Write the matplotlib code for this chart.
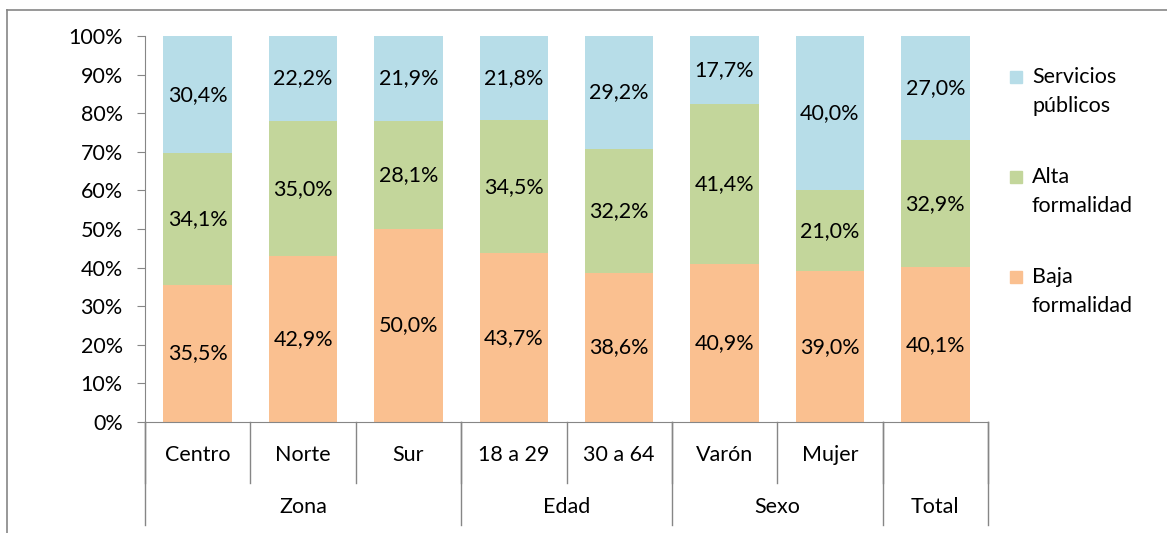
import numpy as np
import matplotlib.pyplot as plt
from matplotlib.lines import Line2D
from matplotlib.patches import Rectangle

categorias = ["Centro", "Norte", "Sur", "18 a 29", "30 a 64", "Varón", "Mujer", ""]
grupos = ["Zona", "Edad", "Sexo", "Total"]
grupo_tam = [3, 2, 2, 1]

baja = [35.5, 42.9, 50.0, 43.7, 38.6, 40.9, 39.0, 40.1]
alta = [34.1, 35.0, 28.1, 34.5, 32.2, 41.4, 21.0, 32.9]
servicios = [30.4, 22.2, 21.9, 21.8, 29.2, 17.7, 40.0, 27.0]

series = [("Baja\nformalidad", baja, "#FAC090"),
          ("Alta\nformalidad", alta, "#C3D69B"),
          ("Servicios\npúblicos", servicios, "#B7DDE8")]

FS = 15.5
plt.rcParams['font.family'] = ['Lato', 'DejaVu Sans']
W, H = 1167, 533
fig = plt.figure(figsize=(W / 100, H / 100), dpi=100)
ax = fig.add_axes([145 / W, 111 / H, (988 - 145) / W, 386 / H])

x = np.arange(len(categorias))
bottom = np.zeros(len(x))
for nombre, vals, color in series:
    vals = np.array(vals)
    ax.bar(x, vals, bottom=bottom, width=0.65, color=color, edgecolor='none')
    for xi, b, v in zip(x, bottom, vals):
        ax.text(xi, b + v / 2, f"{v:.1f}%".replace(".", ","), ha='center', va='center', fontsize=FS)
    bottom += vals

ax.set_xlim(-0.5, len(x) - 0.5)
ax.set_ylim(0, 100)
ax.set_yticks(np.arange(0, 101, 10))
ax.set_yticklabels([f"{t}%" for t in range(0, 101, 10)], fontsize=FS)
ax.tick_params(axis='y', length=6, color='#868686', pad=10)
ax.set_xticks([])
for s in ['top', 'right']:
    ax.spines[s].set_visible(False)
for s in ['left', 'bottom']:
    ax.spines[s].set_color('#868686')

# category axis: two levels
tr = ax.get_xaxis_transform()
for b in np.arange(-0.5, len(x), 1.0):
    ax.plot([b, b], [0, -0.158], transform=tr, color='#868686', lw=1, clip_on=False)
for xi, c in zip(x, categorias):
    ax.text(xi, -0.0855, c, transform=tr, ha='center', va='center', fontsize=FS)
start = -0.5
for g, n in zip(grupos, grupo_tam):
    ax.plot([start, start], [0, -0.267], transform=tr, color='#868686', lw=1, clip_on=False)
    ax.text(start + n / 2, -0.22, g, transform=tr, ha='center', va='center', fontsize=FS)
    start += n
ax.plot([start, start], [0, -0.267], transform=tr, color='#868686', lw=1, clip_on=False)

# legend
for i, (nombre, vals, color) in enumerate(reversed(series)):
    y0 = 77 + i * 100
    fig.patches.append(Rectangle((1010 / W, 1 - (y0 + 6) / H), 12 / W, 12 / H,
                                 transform=fig.transFigure, color=color))
    fig.text(1032 / W, 1 - (y0 - 10) / H, nombre, ha='left', va='top', fontsize=FS,
             linespacing=1.55)

# chart area border
fig.add_artist(Line2D([7 / W, 7 / W], [0, 1 - 10 / H], color='#868686', lw=1.2))
fig.add_artist(Line2D([7 / W, 1], [1 - 10 / H, 1 - 10 / H], color='#868686', lw=1.2))

fig.savefig("out.png", dpi=100)
